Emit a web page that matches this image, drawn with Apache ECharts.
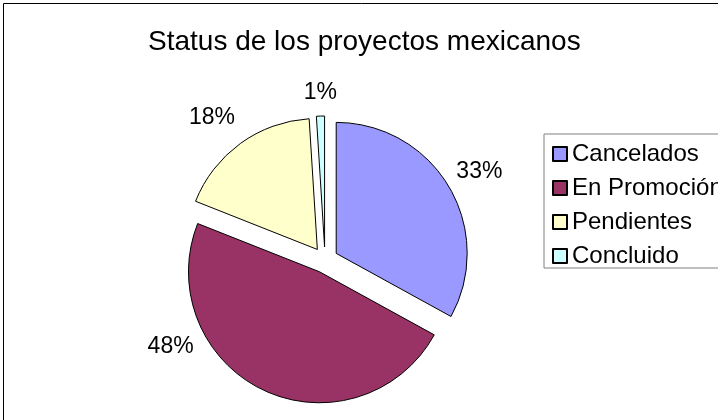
<!DOCTYPE html>
<html>
<head>
<meta charset="utf-8">
<script src="https://cdn.jsdelivr.net/npm/echarts@6/dist/echarts.min.js"></script>
<style>
  html, body { margin: 0; padding: 0; background: #fff; }
  #chart { width: 718px; height: 420px; }
</style>
</head>
<body>
<div id="chart"></div>
<script>
const titleText = 'Status de los proyectos mexicanos'
const categories = ['Cancelados', 'En Promoción', 'Pendientes', 'Concluido']
const values = [33, 48, 18, 1]
const colors = ['#9999FF', '#993366', '#FFFFCC', '#CCFFFF']
// small nudges so the % labels sit where the original put them
const labelShift = [[2, 2], [-79, -73], [-9, 1], [1, 10]]

const font = "'Liberation Sans', Arial, sans-serif"
const chart = echarts.init(document.getElementById('chart'))

chart.setOption({
  animation: false,
  graphic: [{
    type: 'rect',
    left: 1,
    top: 1,
    shape: { width: 800, height: 417 },
    style: { fill: 'none', stroke: '#000', lineWidth: 1 },
    silent: true
  }],
  title: {
    text: titleText,
    left: 143,
    top: 23,
    textStyle: { fontFamily: font, fontSize: 28, fontWeight: 'normal', color: '#000' }
  },
  legend: {
    orient: 'vertical',
    left: 544,
    top: 134,
    padding: [8, 40, 0, 8],
    itemGap: 10,
    itemWidth: 14,
    itemHeight: 14,
    icon: 'rect',
    borderColor: '#808080',
    borderWidth: 1,
    data: categories,
    textStyle: { fontFamily: font, fontSize: 24, color: '#000' }
  },
  series: [{
    type: 'pie',
    center: [325, 260],
    radius: 131,
    startAngle: 90,
    clockwise: true,
    selectedMode: 'multiple',
    selectedOffset: 13,
    emphasis: { disabled: true },
    itemStyle: { borderColor: '#000', borderWidth: 1 },
    label: {
      show: true,
      position: 'outside',
      formatter: '{d}%',
      fontFamily: font,
      fontSize: 23,
      color: '#000',
      distanceToLabelLine: 0
    },
    labelLine: { show: false, length: 33, length2: 0 },
    labelLayout: function (params) {
      const s = labelShift[params.dataIndex]
      return { align: 'center', verticalAlign: 'middle', dx: s[0], dy: s[1] }
    },
    data: categories.map((name, i) => ({
      name: name,
      value: values[i],
      selected: true,
      itemStyle: { color: colors[i] }
    }))
  }]
})
</script>
</body>
</html>
